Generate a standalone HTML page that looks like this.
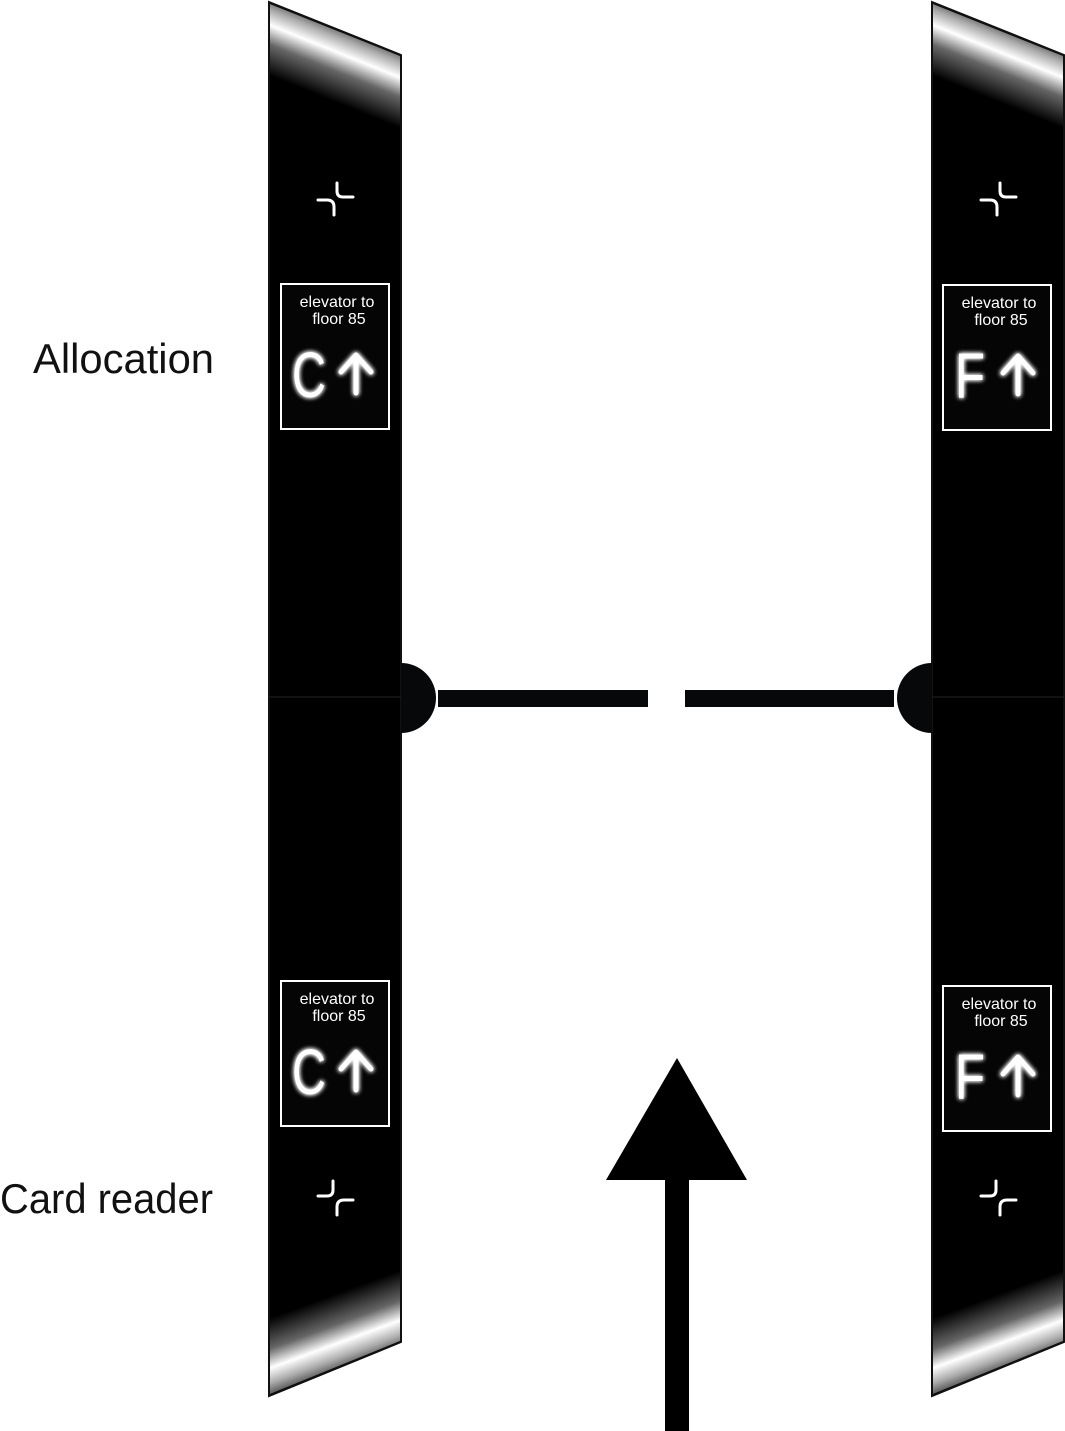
<!DOCTYPE html>
<html><head><meta charset="utf-8"><style>
html,body{margin:0;padding:0;background:#fff}
svg{display:block}
</style></head><body>
<svg width="1065" height="1431" viewBox="0 0 1065 1431" xmlns="http://www.w3.org/2000/svg">
<defs>
<linearGradient id="gt" gradientUnits="userSpaceOnUse" x1="335" y1="102" x2="362" y2="35">
<stop offset="0" stop-color="#000"/>
<stop offset="0.4" stop-color="#666"/>
<stop offset="0.65" stop-color="#fff"/>
<stop offset="0.85" stop-color="#aaa"/>
<stop offset="1" stop-color="#555"/>
</linearGradient>
<linearGradient id="gb" gradientUnits="userSpaceOnUse" x1="335" y1="1294" x2="360" y2="1362">
<stop offset="0" stop-color="#000"/>
<stop offset="0.4" stop-color="#666"/>
<stop offset="0.65" stop-color="#fff"/>
<stop offset="0.85" stop-color="#aaa"/>
<stop offset="1" stop-color="#555"/>
</linearGradient>
<filter id="glow" x="-30%" y="-30%" width="160%" height="160%">
<feGaussianBlur stdDeviation="2.5" result="b"/>
<feMerge><feMergeNode in="b"/><feMergeNode in="b"/><feMergeNode in="SourceGraphic"/></feMerge>
</filter>
<g id="pillar">
<polygon points="269,2 401,55 401,1342 269,1396" fill="#000" stroke="#111" stroke-width="2"/>
<polygon points="270,4 400,56 400,128 270,76" fill="url(#gt)"/>
<polygon points="270,1318 400,1270 400,1341 270,1394" fill="url(#gb)"/>
<line x1="269" y1="697" x2="401" y2="697" stroke="#222" stroke-width="1"/>
<g fill="none" stroke="#fff" stroke-width="3" stroke-linecap="round">
<path d="M318,200 H327 Q334,200 334,207 V215"/>
<path d="M337,183 V191 Q337,197 343,197 H353"/>
<path d="M318,1196 H327 Q333,1196 333,1190 V1181"/>
<path d="M337,1215 V1207 Q337,1200 344,1200 H353"/>
</g>
</g>
<g id="panel">
<rect x="1" y="1" width="108" height="145" fill="#050505" stroke="#fff" stroke-width="2"/>
<text x="57" y="24" font-family="Liberation Sans, sans-serif" font-size="16" fill="#fff" text-anchor="middle">elevator to</text>
<text x="59" y="41" font-family="Liberation Sans, sans-serif" font-size="16" fill="#fff" text-anchor="middle">floor 85</text>
<g filter="url(#glow)" stroke="#fff" stroke-width="5" fill="none" stroke-linecap="round" stroke-linejoin="round">
<path d="M76,110 V72 M61,89 L76,72 L91,89"/>
</g>
</g>
</defs>
<use href="#pillar"/>
<use href="#pillar" transform="translate(663,0)"/>
<g transform="translate(280,283)"><use href="#panel"/><text x="12" y="114" font-family="Liberation Sans, sans-serif" font-size="64" fill="#fff" filter="url(#glow)" textLength="34" lengthAdjust="spacingAndGlyphs">C</text></g>
<g transform="translate(280,980)"><use href="#panel"/><text x="12" y="114" font-family="Liberation Sans, sans-serif" font-size="64" fill="#fff" filter="url(#glow)" textLength="34" lengthAdjust="spacingAndGlyphs">C</text></g>
<g transform="translate(942,284)"><use href="#panel"/><text x="13" y="114" font-family="Liberation Sans, sans-serif" font-size="64" fill="#fff" filter="url(#glow)" textLength="30" lengthAdjust="spacingAndGlyphs">F</text></g>
<g transform="translate(942,985)"><use href="#panel"/><text x="13" y="114" font-family="Liberation Sans, sans-serif" font-size="64" fill="#fff" filter="url(#glow)" textLength="30" lengthAdjust="spacingAndGlyphs">F</text></g>
<path d="M401,663 A35,35 0 0 1 401,733 Z" fill="#07080a"/>
<path d="M932,663 A35,35 0 0 0 932,733 Z" fill="#07080a"/>
<rect x="438" y="690" width="210" height="17" fill="#07080a"/>
<rect x="685" y="690" width="209" height="17" fill="#07080a"/>
<polygon points="677,1058 747,1180 606,1180" fill="#000"/>
<rect x="665" y="1178" width="24" height="253" fill="#000"/>
<text x="33" y="373" font-family="Liberation Sans, sans-serif" font-size="42" fill="#111" textLength="181" lengthAdjust="spacingAndGlyphs">Allocation</text>
<text x="0" y="1213" font-family="Liberation Sans, sans-serif" font-size="42" fill="#111" textLength="213" lengthAdjust="spacingAndGlyphs">Card reader</text>
</svg>
</body></html>
